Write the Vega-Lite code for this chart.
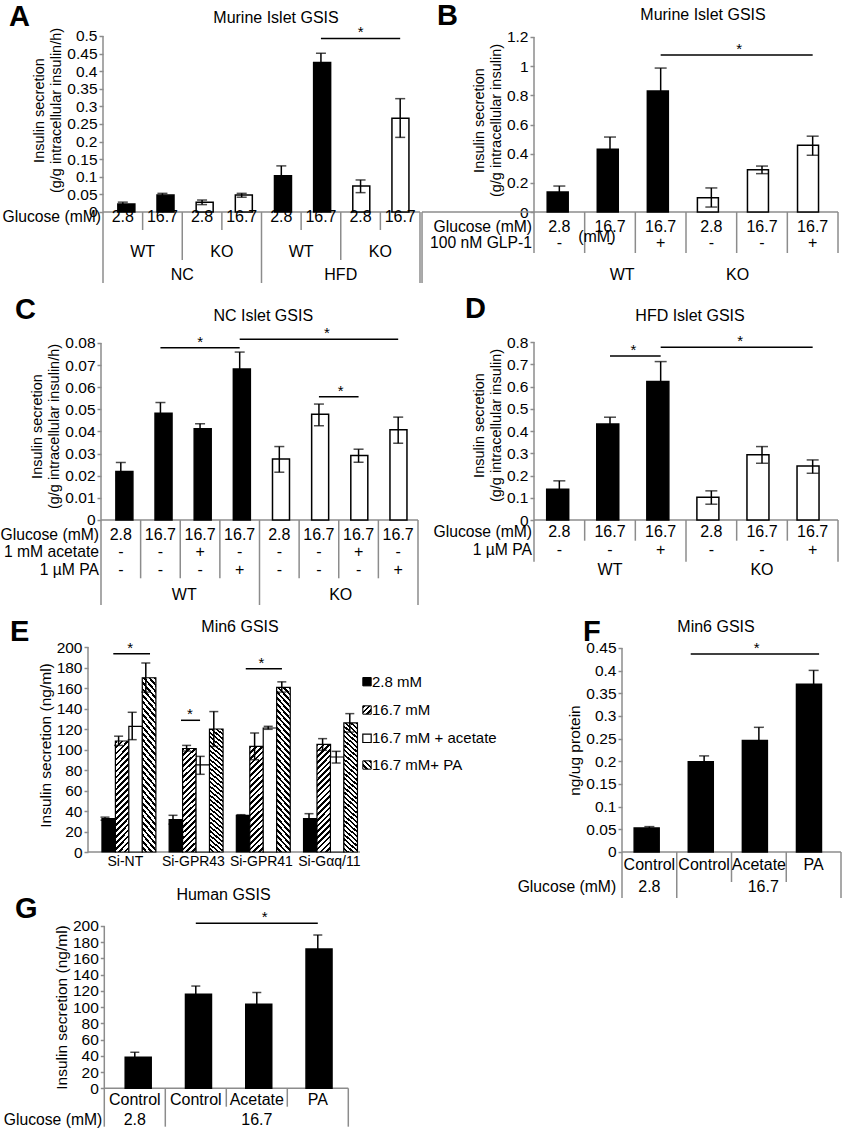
{
"$schema":"https://vega.github.io/schema/vega-lite/v6.json",
"width":843,"height":1128,"autosize":{"type":"none"},"padding":0,"background":"white",
"config":{"font":"Liberation Sans","view":{"stroke":null},
"axis":{"domain":false,"grid":false,"ticks":true,"tickColor":"#8c8c8c","tickSize":4,"tickWidth":1.5,"labelFont":"Liberation Sans","labelFontSize":15.5,"labelColor":"#000","labelPadding":2,"labelFlush":false,"labelOverlap":false,"titleFont":"Liberation Sans","titleFontWeight":"normal","titleColor":"#000","titlePadding":3,"zindex":2},
"text":{"font":"Liberation Sans","color":"#000"}},
"datasets":{
"barsA":[{"x":1,"v":0.0227,"lo":0.018,"hi":0.028,"g":"WT"},{"x":2,"v":0.048,"lo":0.043,"hi":0.053,"g":"WT"},{"x":3,"v":0.0275,"lo":0.021,"hi":0.034,"g":"KO"},{"x":4,"v":0.048,"lo":0.042,"hi":0.053,"g":"KO"},{"x":5,"v":0.103,"lo":0.075,"hi":0.131,"g":"WT"},{"x":6,"v":0.425,"lo":0.399,"hi":0.451,"g":"WT"},{"x":7,"v":0.074,"lo":0.055,"hi":0.091,"g":"KO"},{"x":8,"v":0.266,"lo":0.212,"hi":0.322,"g":"KO"}],
"linesA":[{"x":0.5,"x2":0.5,"y":0.5,"y2":-0.2017},{"x":0.5,"x2":8.5,"y":0,"y2":0},{"x":1.5,"x2":1.5,"y":0,"y2":-0.0511},{"x":3.5,"x2":3.5,"y":0,"y2":-0.0511},{"x":5.5,"x2":5.5,"y":0,"y2":-0.0511},{"x":7.5,"x2":7.5,"y":0,"y2":-0.0511},{"x":2.5,"x2":2.5,"y":0,"y2":-0.1364},{"x":6.5,"x2":6.5,"y":0,"y2":-0.1364},{"x":4.5,"x2":4.5,"y":0,"y2":-0.2017},{"x":8.5,"x2":8.5,"y":0,"y2":-0.2017}],
"sigA":[{"x":6,"x2":8,"xm":7,"y":0.493}],
"tabA":[{"x":1,"y":-0.0142,"t":"2.8"},{"x":2,"y":-0.0142,"t":"16.7"},{"x":3,"y":-0.0142,"t":"2.8"},{"x":4,"y":-0.0142,"t":"16.7"},{"x":5,"y":-0.0142,"t":"2.8"},{"x":6,"y":-0.0142,"t":"16.7"},{"x":7,"y":-0.0142,"t":"2.8"},{"x":8,"y":-0.0142,"t":"16.7"},{"x":1.5,"y":-0.1136,"t":"WT"},{"x":3.5,"y":-0.1136,"t":"KO"},{"x":5.5,"y":-0.1136,"t":"WT"},{"x":7.5,"y":-0.1136,"t":"KO"},{"x":2.5,"y":-0.179,"t":"NC"},{"x":6.5,"y":-0.179,"t":"HFD"}],
"rowA":[{"x":0.5,"y":-0.0142,"t":"Glucose (mM)"}],
"annA":[{"x":-1.872,"y":0.5284,"t":"A","k":"letter"},{"x":4.866,"y":0.5369,"t":"Murine Islet GSIS","k":"title"}],
"barsB":[{"x":1,"v":0.137,"lo":0.096,"hi":0.178,"g":"WT"},{"x":2,"v":0.43,"lo":0.346,"hi":0.514,"g":"WT"},{"x":3,"v":0.83,"lo":0.673,"hi":0.987,"g":"WT"},{"x":4,"v":0.098,"lo":0.034,"hi":0.165,"g":"KO"},{"x":5,"v":0.29,"lo":0.263,"hi":0.315,"g":"KO"},{"x":6,"v":0.457,"lo":0.389,"hi":0.52,"g":"KO"}],
"linesB":[{"x":0.5,"x2":0.5,"y":1.2,"y2":-0.2811},{"x":-1.71,"x2":6.5,"y":0,"y2":0},{"x":-1.71,"x2":-1.71,"y":0,"y2":-0.4869},{"x":1.5,"x2":1.5,"y":0,"y2":-0.2811},{"x":2.5,"x2":2.5,"y":0,"y2":-0.2811},{"x":3.5,"x2":3.5,"y":0,"y2":-0.2811},{"x":4.5,"x2":4.5,"y":0,"y2":-0.2811},{"x":5.5,"x2":5.5,"y":0,"y2":-0.2811},{"x":6.5,"x2":6.5,"y":0,"y2":-0.2811}],
"sigB":[{"x":3,"x2":6,"xm":4.55,"y":1.0766}],
"tabB":[{"x":1,"y":-0.1029,"t":"2.8"},{"x":2,"y":-0.1029,"t":"16.7"},{"x":3,"y":-0.1029,"t":"16.7"},{"x":4,"y":-0.1029,"t":"2.8"},{"x":5,"y":-0.1029,"t":"16.7"},{"x":6,"y":-0.1029,"t":"16.7"},{"x":1,"y":-0.2126,"t":"-"},{"x":2,"y":-0.2126,"t":"-"},{"x":3,"y":-0.2126,"t":"+"},{"x":4,"y":-0.2126,"t":"-"},{"x":5,"y":-0.2126,"t":"-"},{"x":6,"y":-0.2126,"t":"+"},{"x":1.74,"y":-0.1714,"t":"(mM)"},{"x":2.24,"y":-0.432,"t":"WT"},{"x":4.52,"y":-0.432,"t":"KO"}],
"rowB":[{"x":0.5,"y":-0.1029,"t":"Glucose (mM)"},{"x":0.5,"y":-0.2126,"t":"100 nM GLP-1"}],
"annB":[{"x":-1.4145,"y":1.2823,"t":"B","k":"letter"},{"x":3.8355,"y":1.3166,"t":"Murine Islet GSIS","k":"title"}],
"barsC":[{"x":1,"v":0.0219,"lo":0.0178,"hi":0.026,"g":"WT"},{"x":2,"v":0.0483,"lo":0.0435,"hi":0.0531,"g":"WT"},{"x":3,"v":0.0412,"lo":0.0389,"hi":0.0435,"g":"WT"},{"x":4,"v":0.0682,"lo":0.0605,"hi":0.0759,"g":"WT"},{"x":5,"v":0.0276,"lo":0.0216,"hi":0.0332,"g":"KO"},{"x":6,"v":0.0478,"lo":0.0426,"hi":0.0524,"g":"KO"},{"x":7,"v":0.0291,"lo":0.0261,"hi":0.032,"g":"KO"},{"x":8,"v":0.0408,"lo":0.0347,"hi":0.0465,"g":"KO"}],
"linesC":[{"x":0.5,"x2":0.5,"y":0.08,"y2":-0.03842},{"x":0.5,"x2":8.5,"y":0,"y2":0},{"x":1.5,"x2":1.5,"y":0,"y2":-0.02635},{"x":2.5,"x2":2.5,"y":0,"y2":-0.02635},{"x":3.5,"x2":3.5,"y":0,"y2":-0.02635},{"x":5.5,"x2":5.5,"y":0,"y2":-0.02635},{"x":6.5,"x2":6.5,"y":0,"y2":-0.02635},{"x":7.5,"x2":7.5,"y":0,"y2":-0.02635},{"x":4.5,"x2":4.5,"y":0,"y2":-0.03842},{"x":8.5,"x2":8.5,"y":0,"y2":-0.03842}],
"sigC":[{"x":2,"x2":4,"xm":3,"y":0.07788},{"x":4,"x2":8,"xm":6.2,"y":0.08167},{"x":6,"x2":7,"xm":6.55,"y":0.05573}],
"tabC":[{"x":1,"y":-0.00678,"t":"2.8"},{"x":2,"y":-0.00678,"t":"16.7"},{"x":3,"y":-0.00678,"t":"16.7"},{"x":4,"y":-0.00678,"t":"16.7"},{"x":5,"y":-0.00678,"t":"2.8"},{"x":6,"y":-0.00678,"t":"16.7"},{"x":7,"y":-0.00678,"t":"16.7"},{"x":8,"y":-0.00678,"t":"16.7"},{"x":1,"y":-0.01433,"t":"-"},{"x":2,"y":-0.01433,"t":"-"},{"x":3,"y":-0.01433,"t":"+"},{"x":4,"y":-0.01433,"t":"-"},{"x":5,"y":-0.01433,"t":"-"},{"x":6,"y":-0.01433,"t":"-"},{"x":7,"y":-0.01433,"t":"+"},{"x":8,"y":-0.01433,"t":"-"},{"x":1,"y":-0.0226,"t":"-"},{"x":2,"y":-0.0226,"t":"-"},{"x":3,"y":-0.0226,"t":"-"},{"x":4,"y":-0.0226,"t":"+"},{"x":5,"y":-0.0226,"t":"-"},{"x":6,"y":-0.0226,"t":"-"},{"x":7,"y":-0.0226,"t":"-"},{"x":8,"y":-0.0226,"t":"+"},{"x":2.6,"y":-0.0339,"t":"WT"},{"x":6.55,"y":-0.0339,"t":"KO"}],
"rowC":[{"x":0.5,"y":-0.00678,"t":"Glucose (mM)"},{"x":0.5,"y":-0.01433,"t":"1 mM acetate"},{"x":0.5,"y":-0.0226,"t":"1 µM PA"}],
"annC":[{"x":-1.6703,"y":0.09085,"t":"C","k":"letter"},{"x":4.596,"y":0.09008,"t":"NC Islet GSIS","k":"title"}],
"barsD":[{"x":1,"v":0.138,"lo":0.1,"hi":0.176,"g":"WT"},{"x":2,"v":0.432,"lo":0.402,"hi":0.462,"g":"WT"},{"x":3,"v":0.623,"lo":0.534,"hi":0.712,"g":"WT"},{"x":4,"v":0.102,"lo":0.071,"hi":0.131,"g":"KO"},{"x":5,"v":0.293,"lo":0.255,"hi":0.33,"g":"KO"},{"x":6,"v":0.243,"lo":0.21,"hi":0.27,"g":"KO"}],
"linesD":[{"x":0.5,"x2":0.5,"y":0.8,"y2":-0.1874},{"x":0.5,"x2":6.5,"y":0,"y2":0},{"x":1.5,"x2":1.5,"y":0,"y2":-0.093},{"x":2.5,"x2":2.5,"y":0,"y2":-0.093},{"x":4.5,"x2":4.5,"y":0,"y2":-0.093},{"x":5.5,"x2":5.5,"y":0,"y2":-0.093},{"x":3.5,"x2":3.5,"y":0,"y2":-0.1874},{"x":6.5,"x2":6.5,"y":0,"y2":-0.1874}],
"sigD":[{"x":2,"x2":3,"xm":2.46,"y":0.737},{"x":3,"x2":6,"xm":4.57,"y":0.776}],
"tabD":[{"x":1,"y":-0.0526,"t":"2.8"},{"x":2,"y":-0.0526,"t":"16.7"},{"x":3,"y":-0.0526,"t":"16.7"},{"x":4,"y":-0.0526,"t":"2.8"},{"x":5,"y":-0.0526,"t":"16.7"},{"x":6,"y":-0.0526,"t":"16.7"},{"x":1,"y":-0.1348,"t":"-"},{"x":2,"y":-0.1348,"t":"-"},{"x":3,"y":-0.1348,"t":"+"},{"x":4,"y":-0.1348,"t":"-"},{"x":5,"y":-0.1348,"t":"-"},{"x":6,"y":-0.1348,"t":"+"},{"x":2,"y":-0.2247,"t":"WT"},{"x":5,"y":-0.2247,"t":"KO"}],
"rowD":[{"x":0.5,"y":-0.0526,"t":"Glucose (mM)"},{"x":0.5,"y":-0.1348,"t":"1 µM PA"}],
"annD":[{"x":-0.8618,"y":0.9079,"t":"D","k":"letter"},{"x":3.579,"y":0.8957,"t":"HFD Islet GSIS","k":"title"}],
"barsE":[{"x":1.5,"grp":"Si-NT","c":"2.8 mM","v":32.5,"lo":31,"hi":34},{"x":2.5,"grp":"Si-NT","c":"16.7 mM","v":108.3,"lo":104,"hi":113},{"x":3.5,"grp":"Si-NT","c":"16.7 mM + acetate","v":122.6,"lo":109.6,"hi":136.3},{"x":4.5,"grp":"Si-NT","c":"16.7 mM + PA","v":170,"lo":156,"hi":184.4},{"x":6.5,"grp":"Si-GPR43","c":"2.8 mM","v":31.5,"lo":27.2,"hi":35.8},{"x":7.5,"grp":"Si-GPR43","c":"16.7 mM","v":101,"lo":98.5,"hi":104},{"x":8.5,"grp":"Si-GPR43","c":"16.7 mM + acetate","v":85,"lo":75.8,"hi":93.3},{"x":9.5,"grp":"Si-GPR43","c":"16.7 mM + PA","v":120,"lo":103,"hi":137},{"x":11.5,"grp":"Si-GPR41","c":"2.8 mM","v":35.8,"lo":35.2,"hi":36.4},{"x":12.5,"grp":"Si-GPR41","c":"16.7 mM","v":103,"lo":90,"hi":116},{"x":13.5,"grp":"Si-GPR41","c":"16.7 mM + acetate","v":121,"lo":119.7,"hi":122.6},{"x":14.5,"grp":"Si-GPR41","c":"16.7 mM + PA","v":160.6,"lo":156,"hi":166},{"x":16.5,"grp":"Si-Gαq/11","c":"2.8 mM","v":32.5,"lo":27.6,"hi":37.4},{"x":17.5,"grp":"Si-Gαq/11","c":"16.7 mM","v":105,"lo":99.2,"hi":110.6},{"x":18.5,"grp":"Si-Gαq/11","c":"16.7 mM + acetate","v":92.7,"lo":86.8,"hi":98.2},{"x":19.5,"grp":"Si-Gαq/11","c":"16.7 mM + PA","v":125.9,"lo":117,"hi":135}],
"linesE":[{"x":0.25,"x2":0.25,"y":200,"y2":0},{"x":0.25,"x2":20.25,"y":0,"y2":0}],
"sigE":[{"x":2.11,"x2":4.81,"xm":3.35,"y":193.5},{"x":7.09,"x2":8.49,"xm":7.75,"y":128.5},{"x":11.85,"x2":14.51,"xm":13.0,"y":178.9}],
"tabE":[{"x":3,"y":-9.76,"t":"Si-NT"},{"x":8,"y":-9.76,"t":"Si-GPR43"},{"x":13,"y":-9.76,"t":"Si-GPR41"},{"x":18,"y":-9.76,"t":"Si-Gαq/11"}],
"legE":[{"x":20.765,"y":166.15,"t":"2.8  mM","c":"2.8 mM"},{"x":20.765,"y":138.54,"t":"16.7 mM","c":"16.7 mM"},{"x":20.765,"y":110.93,"t":"16.7 mM + acetate","c":"16.7 mM + acetate"},{"x":20.765,"y":84.88,"t":"16.7 mM+ PA","c":"16.7 mM + PA"}],
"annE":[{"x":-5.485,"y":205.85,"t":"E","k":"letter"},{"x":11.426,"y":214.63,"t":"Min6 GSIS","k":"title"}],
"barsF":[{"x":1,"v":0.0531,"lo":0.05,"hi":0.056},{"x":2,"v":0.199,"lo":0.186,"hi":0.212},{"x":3,"v":0.2457,"lo":0.216,"hi":0.275},{"x":4,"v":0.37,"lo":0.339,"hi":0.4006}],
"linesF":[{"x":0.5,"x2":0.5,"y":0.45,"y2":-0.10147},{"x":0.5,"x2":4.5,"y":0,"y2":0},{"x":1.5,"x2":1.5,"y":0,"y2":-0.10147},{"x":2.5,"x2":2.5,"y":0,"y2":-0.0662},{"x":3.5,"x2":3.5,"y":0,"y2":-0.0662},{"x":4.5,"x2":4.5,"y":0,"y2":-0.10147}],
"sigF":[{"x":1.755,"x2":4.1,"xm":2.96,"y":0.4367}],
"tabF":[{"x":1,"y":-0.0287,"t":"Control"},{"x":2,"y":-0.0287,"t":"Control"},{"x":3,"y":-0.0287,"t":"Acetate"},{"x":4,"y":-0.0287,"t":"PA"},{"x":1,"y":-0.0772,"t":"2.8"},{"x":3.08,"y":-0.0772,"t":"16.7"}],
"rowF":[{"x":0.43,"y":-0.0772,"t":"Glucose (mM)"}],
"annF":[{"x":-0.2123,"y":0.46544,"t":"F","k":"letter"},{"x":2.2169,"y":0.48529,"t":"Min6 GSIS","k":"title"}],
"barsG":[{"x":1,"v":38.2,"lo":32,"hi":44.4},{"x":2,"v":115.8,"lo":105.6,"hi":126},{"x":3,"v":103.5,"lo":89,"hi":117.9},{"x":4,"v":171.7,"lo":154.5,"hi":188.9}],
"linesG":[{"x":0.5,"x2":0.5,"y":200,"y2":-47.3},{"x":0.5,"x2":4.5,"y":0,"y2":0},{"x":1.5,"x2":1.5,"y":0,"y2":-47.3},{"x":2.5,"x2":2.5,"y":0,"y2":-22.67},{"x":3.5,"x2":3.5,"y":0,"y2":-22.67},{"x":4.5,"x2":4.5,"y":0,"y2":-47.3}],
"sigG":[{"x":2,"x2":4,"xm":3.13,"y":203.3}],
"tabG":[{"x":1,"y":-14.42,"t":"Control"},{"x":2,"y":-14.42,"t":"Control"},{"x":3,"y":-14.42,"t":"Acetate"},{"x":4,"y":-14.42,"t":"PA"},{"x":1,"y":-39.06,"t":"2.8"},{"x":3,"y":-39.06,"t":"16.7"}],
"rowG":[{"x":0.5,"y":-39.06,"t":"Glucose (mM)"}],
"annG":[{"x":-0.9639,"y":209.86,"t":"G","k":"letter"},{"x":2.4541,"y":232.04,"t":"Human GSIS","k":"title"}]
},
"resolve":{"scale":{"x":"independent","y":"independent"},"axis":{"x":"independent","y":"independent"}},
"layer":[
{"data":{"name":"linesA"},"mark":{"type":"rule","stroke":"#8c8c8c","strokeWidth":1.5},"encoding":{"x":{"field":"x","type":"quantitative","scale":{"domain":[-2.0994,19.1751],"nice":false,"zero":false},"axis":null},"x2":{"field":"x2"},"y":{"field":"y","type":"quantitative","scale":{"domain":[-2.60227,0.60227],"nice":false,"zero":false},"axis":null},"y2":{"field":"y2"}}},
{"data":{"name":"barsA"},"mark":{"type":"bar","size":17,"stroke":"black","strokeWidth":1.5},"encoding":{"x":{"field":"x","type":"quantitative","scale":{"domain":[-2.0994,19.1751],"nice":false,"zero":false},"axis":null},"y":{"field":"v","type":"quantitative","scale":{"domain":[-2.60227,0.60227],"nice":false,"zero":false},"axis":{"orient":"left","offset":-103,"values":[0,0.05,0.1,0.15,0.2,0.25,0.3,0.35,0.4,0.45,0.5],"format":".2~f","title":["Insulin secretion","(g/g intracellular insulin/h)"],"titleY":110,"titleFontSize":14.5,"titleLineHeight":17}},"y2":{"datum":0},"fill":{"field":"g","type":"nominal","scale":{"domain":["WT","KO"],"range":["black","white"]},"legend":null}}},
{"data":{"name":"barsA"},"mark":{"type":"errorbar","ticks":{"size":10},"thickness":1.5,"color":"black"},"encoding":{"x":{"field":"x","type":"quantitative","scale":{"domain":[-2.0994,19.1751],"nice":false,"zero":false},"axis":null},"y":{"field":"lo","type":"quantitative","scale":{"domain":[-2.60227,0.60227],"nice":false,"zero":false},"axis":null},"y2":{"field":"hi"}}},
{"data":{"name":"sigA"},"mark":{"type":"rule","color":"black","strokeWidth":1.5},"encoding":{"x":{"field":"x","type":"quantitative","scale":{"domain":[-2.0994,19.1751],"nice":false,"zero":false},"axis":null},"x2":{"field":"x2"},"y":{"field":"y","type":"quantitative","scale":{"domain":[-2.60227,0.60227],"nice":false,"zero":false},"axis":null}}},
{"data":{"name":"sigA"},"mark":{"type":"text","text":"*","fontSize":15,"baseline":"alphabetic","dy":-1},"encoding":{"x":{"field":"xm","type":"quantitative","scale":{"domain":[-2.0994,19.1751],"nice":false,"zero":false},"axis":null},"y":{"field":"y","type":"quantitative","scale":{"domain":[-2.60227,0.60227],"nice":false,"zero":false},"axis":null}}},
{"data":{"name":"tabA"},"mark":{"type":"text","fontSize":16,"baseline":"middle"},"encoding":{"x":{"field":"x","type":"quantitative","scale":{"domain":[-2.0994,19.1751],"nice":false,"zero":false},"axis":null},"y":{"field":"y","type":"quantitative","scale":{"domain":[-2.60227,0.60227],"nice":false,"zero":false},"axis":null},"text":{"field":"t"}}},
{"data":{"name":"rowA"},"mark":{"type":"text","fontSize":15.7,"baseline":"middle","align":"right","dx":-2},"encoding":{"x":{"field":"x","type":"quantitative","scale":{"domain":[-2.0994,19.1751],"nice":false,"zero":false},"axis":null},"y":{"field":"y","type":"quantitative","scale":{"domain":[-2.60227,0.60227],"nice":false,"zero":false},"axis":null},"text":{"field":"t"}}},
{"data":{"name":"annA"},"transform":[{"filter":{"field":"k","equal":"letter"}}],"mark":{"type":"text","fontSize":29,"fontWeight":"bold","align":"left","baseline":"alphabetic"},"encoding":{"x":{"field":"x","type":"quantitative","scale":{"domain":[-2.0994,19.1751],"nice":false,"zero":false},"axis":null},"y":{"field":"y","type":"quantitative","scale":{"domain":[-2.60227,0.60227],"nice":false,"zero":false},"axis":null},"text":{"field":"t"}}},
{"data":{"name":"annA"},"transform":[{"filter":{"field":"k","equal":"title"}}],"mark":{"type":"text","fontSize":16,"baseline":"alphabetic"},"encoding":{"x":{"field":"x","type":"quantitative","scale":{"domain":[-2.0994,19.1751],"nice":false,"zero":false},"axis":null},"y":{"field":"y","type":"quantitative","scale":{"domain":[-2.60227,0.60227],"nice":false,"zero":false},"axis":null},"text":{"field":"t"}}},

{"data":{"name":"linesB"},"mark":{"type":"rule","stroke":"#8c8c8c","strokeWidth":1.5},"encoding":{"x":{"field":"x","type":"quantitative","scale":{"domain":[-10.0394,6.5986],"nice":false,"zero":false},"axis":null},"x2":{"field":"x2"},"y":{"field":"y","type":"quantitative","scale":{"domain":[-6.2811,1.45371],"nice":false,"zero":false},"axis":null},"y2":{"field":"y2"}}},
{"data":{"name":"barsB"},"mark":{"type":"bar","size":21,"stroke":"black","strokeWidth":1.5},"encoding":{"x":{"field":"x","type":"quantitative","scale":{"domain":[-10.0394,6.5986],"nice":false,"zero":false},"axis":null},"y":{"field":"v","type":"quantitative","scale":{"domain":[-6.2811,1.45371],"nice":false,"zero":false},"axis":{"orient":"left","offset":-534,"values":[0,0.2,0.4,0.6,0.8,1,1.2],"format":".1~f","title":["Insulin secretion","(g/g intracellular insulin)"],"titleY":120,"titleFontSize":14.5,"titleLineHeight":17}},"y2":{"datum":0},"fill":{"field":"g","type":"nominal","scale":{"domain":["WT","KO"],"range":["black","white"]},"legend":null}}},
{"data":{"name":"barsB"},"mark":{"type":"errorbar","ticks":{"size":12},"thickness":1.5,"color":"black"},"encoding":{"x":{"field":"x","type":"quantitative","scale":{"domain":[-10.0394,6.5986],"nice":false,"zero":false},"axis":null},"y":{"field":"lo","type":"quantitative","scale":{"domain":[-6.2811,1.45371],"nice":false,"zero":false},"axis":null},"y2":{"field":"hi"}}},
{"data":{"name":"sigB"},"mark":{"type":"rule","color":"black","strokeWidth":1.5},"encoding":{"x":{"field":"x","type":"quantitative","scale":{"domain":[-10.0394,6.5986],"nice":false,"zero":false},"axis":null},"x2":{"field":"x2"},"y":{"field":"y","type":"quantitative","scale":{"domain":[-6.2811,1.45371],"nice":false,"zero":false},"axis":null}}},
{"data":{"name":"sigB"},"mark":{"type":"text","text":"*","fontSize":15,"baseline":"alphabetic","dy":-1},"encoding":{"x":{"field":"xm","type":"quantitative","scale":{"domain":[-10.0394,6.5986],"nice":false,"zero":false},"axis":null},"y":{"field":"y","type":"quantitative","scale":{"domain":[-6.2811,1.45371],"nice":false,"zero":false},"axis":null}}},
{"data":{"name":"tabB"},"mark":{"type":"text","fontSize":16,"baseline":"middle"},"encoding":{"x":{"field":"x","type":"quantitative","scale":{"domain":[-10.0394,6.5986],"nice":false,"zero":false},"axis":null},"y":{"field":"y","type":"quantitative","scale":{"domain":[-6.2811,1.45371],"nice":false,"zero":false},"axis":null},"text":{"field":"t"}}},
{"data":{"name":"rowB"},"mark":{"type":"text","fontSize":15.7,"baseline":"middle","align":"right","dx":-2},"encoding":{"x":{"field":"x","type":"quantitative","scale":{"domain":[-10.0394,6.5986],"nice":false,"zero":false},"axis":null},"y":{"field":"y","type":"quantitative","scale":{"domain":[-6.2811,1.45371],"nice":false,"zero":false},"axis":null},"text":{"field":"t"}}},
{"data":{"name":"annB"},"transform":[{"filter":{"field":"k","equal":"letter"}}],"mark":{"type":"text","fontSize":29,"fontWeight":"bold","align":"left","baseline":"alphabetic"},"encoding":{"x":{"field":"x","type":"quantitative","scale":{"domain":[-10.0394,6.5986],"nice":false,"zero":false},"axis":null},"y":{"field":"y","type":"quantitative","scale":{"domain":[-6.2811,1.45371],"nice":false,"zero":false},"axis":null},"text":{"field":"t"}}},
{"data":{"name":"annB"},"transform":[{"filter":{"field":"k","equal":"title"}}],"mark":{"type":"text","fontSize":16,"baseline":"alphabetic"},"encoding":{"x":{"field":"x","type":"quantitative","scale":{"domain":[-10.0394,6.5986],"nice":false,"zero":false},"axis":null},"y":{"field":"y","type":"quantitative","scale":{"domain":[-6.2811,1.45371],"nice":false,"zero":false},"axis":null},"text":{"field":"t"}}},

{"data":{"name":"linesC"},"mark":{"type":"rule","stroke":"#8c8c8c","strokeWidth":1.5},"encoding":{"x":{"field":"x","type":"quantitative","scale":{"domain":[-2.0489,19.2256],"nice":false,"zero":false},"axis":null},"x2":{"field":"x2"},"y":{"field":"y","type":"quantitative","scale":{"domain":[-0.274802,0.235028],"nice":false,"zero":false},"axis":null},"y2":{"field":"y2"}}},
{"data":{"name":"barsC"},"mark":{"type":"bar","size":17,"stroke":"black","strokeWidth":1.5},"encoding":{"x":{"field":"x","type":"quantitative","scale":{"domain":[-2.0489,19.2256],"nice":false,"zero":false},"axis":null},"y":{"field":"v","type":"quantitative","scale":{"domain":[-0.274802,0.235028],"nice":false,"zero":false},"axis":{"orient":"left","offset":-101,"values":[0,0.01,0.02,0.03,0.04,0.05,0.06,0.07,0.08],"format":".2~f","title":["Insulin secretion","(g/g intracellular insulin/h)"],"titleY":426,"titleFontSize":14.5,"titleLineHeight":17}},"y2":{"datum":0},"fill":{"field":"g","type":"nominal","scale":{"domain":["WT","KO"],"range":["black","white"]},"legend":null}}},
{"data":{"name":"barsC"},"mark":{"type":"errorbar","ticks":{"size":10},"thickness":1.5,"color":"black"},"encoding":{"x":{"field":"x","type":"quantitative","scale":{"domain":[-2.0489,19.2256],"nice":false,"zero":false},"axis":null},"y":{"field":"lo","type":"quantitative","scale":{"domain":[-0.274802,0.235028],"nice":false,"zero":false},"axis":null},"y2":{"field":"hi"}}},
{"data":{"name":"sigC"},"mark":{"type":"rule","color":"black","strokeWidth":1.5},"encoding":{"x":{"field":"x","type":"quantitative","scale":{"domain":[-2.0489,19.2256],"nice":false,"zero":false},"axis":null},"x2":{"field":"x2"},"y":{"field":"y","type":"quantitative","scale":{"domain":[-0.274802,0.235028],"nice":false,"zero":false},"axis":null}}},
{"data":{"name":"sigC"},"mark":{"type":"text","text":"*","fontSize":15,"baseline":"alphabetic","dy":-1},"encoding":{"x":{"field":"xm","type":"quantitative","scale":{"domain":[-2.0489,19.2256],"nice":false,"zero":false},"axis":null},"y":{"field":"y","type":"quantitative","scale":{"domain":[-0.274802,0.235028],"nice":false,"zero":false},"axis":null}}},
{"data":{"name":"tabC"},"mark":{"type":"text","fontSize":16,"baseline":"middle"},"encoding":{"x":{"field":"x","type":"quantitative","scale":{"domain":[-2.0489,19.2256],"nice":false,"zero":false},"axis":null},"y":{"field":"y","type":"quantitative","scale":{"domain":[-0.274802,0.235028],"nice":false,"zero":false},"axis":null},"text":{"field":"t"}}},
{"data":{"name":"rowC"},"mark":{"type":"text","fontSize":15.7,"baseline":"middle","align":"right","dx":-2},"encoding":{"x":{"field":"x","type":"quantitative","scale":{"domain":[-2.0489,19.2256],"nice":false,"zero":false},"axis":null},"y":{"field":"y","type":"quantitative","scale":{"domain":[-0.274802,0.235028],"nice":false,"zero":false},"axis":null},"text":{"field":"t"}}},
{"data":{"name":"annC"},"transform":[{"filter":{"field":"k","equal":"letter"}}],"mark":{"type":"text","fontSize":29,"fontWeight":"bold","align":"left","baseline":"alphabetic"},"encoding":{"x":{"field":"x","type":"quantitative","scale":{"domain":[-2.0489,19.2256],"nice":false,"zero":false},"axis":null},"y":{"field":"y","type":"quantitative","scale":{"domain":[-0.274802,0.235028],"nice":false,"zero":false},"axis":null},"text":{"field":"t"}}},
{"data":{"name":"annC"},"transform":[{"filter":{"field":"k","equal":"title"}}],"mark":{"type":"text","fontSize":16,"baseline":"alphabetic"},"encoding":{"x":{"field":"x","type":"quantitative","scale":{"domain":[-2.0489,19.2256],"nice":false,"zero":false},"axis":null},"y":{"field":"y","type":"quantitative","scale":{"domain":[-0.274802,0.235028],"nice":false,"zero":false},"axis":null},"text":{"field":"t"}}},

{"data":{"name":"linesD"},"mark":{"type":"rule","stroke":"#8c8c8c","strokeWidth":1.5},"encoding":{"x":{"field":"x","type":"quantitative","scale":{"domain":[-10.0394,6.5986],"nice":false,"zero":false},"axis":null},"x2":{"field":"x2"},"y":{"field":"y","type":"quantitative","scale":{"domain":[-2.73258,2.33708],"nice":false,"zero":false},"axis":null},"y2":{"field":"y2"}}},
{"data":{"name":"barsD"},"mark":{"type":"bar","size":22,"stroke":"black","strokeWidth":1.5},"encoding":{"x":{"field":"x","type":"quantitative","scale":{"domain":[-10.0394,6.5986],"nice":false,"zero":false},"axis":null},"y":{"field":"v","type":"quantitative","scale":{"domain":[-2.73258,2.33708],"nice":false,"zero":false},"axis":{"orient":"left","offset":-534,"values":[0,0.1,0.2,0.3,0.4,0.5,0.6,0.7,0.8],"format":".1~f","title":["Insulin secretion","(g/g intracellular insulin)"],"titleY":425,"titleFontSize":14.5,"titleLineHeight":17}},"y2":{"datum":0},"fill":{"field":"g","type":"nominal","scale":{"domain":["WT","KO"],"range":["black","white"]},"legend":null}}},
{"data":{"name":"barsD"},"mark":{"type":"errorbar","ticks":{"size":12},"thickness":1.5,"color":"black"},"encoding":{"x":{"field":"x","type":"quantitative","scale":{"domain":[-10.0394,6.5986],"nice":false,"zero":false},"axis":null},"y":{"field":"lo","type":"quantitative","scale":{"domain":[-2.73258,2.33708],"nice":false,"zero":false},"axis":null},"y2":{"field":"hi"}}},
{"data":{"name":"sigD"},"mark":{"type":"rule","color":"black","strokeWidth":1.5},"encoding":{"x":{"field":"x","type":"quantitative","scale":{"domain":[-10.0394,6.5986],"nice":false,"zero":false},"axis":null},"x2":{"field":"x2"},"y":{"field":"y","type":"quantitative","scale":{"domain":[-2.73258,2.33708],"nice":false,"zero":false},"axis":null}}},
{"data":{"name":"sigD"},"mark":{"type":"text","text":"*","fontSize":15,"baseline":"alphabetic","dy":-1},"encoding":{"x":{"field":"xm","type":"quantitative","scale":{"domain":[-10.0394,6.5986],"nice":false,"zero":false},"axis":null},"y":{"field":"y","type":"quantitative","scale":{"domain":[-2.73258,2.33708],"nice":false,"zero":false},"axis":null}}},
{"data":{"name":"tabD"},"mark":{"type":"text","fontSize":16,"baseline":"middle"},"encoding":{"x":{"field":"x","type":"quantitative","scale":{"domain":[-10.0394,6.5986],"nice":false,"zero":false},"axis":null},"y":{"field":"y","type":"quantitative","scale":{"domain":[-2.73258,2.33708],"nice":false,"zero":false},"axis":null},"text":{"field":"t"}}},
{"data":{"name":"rowD"},"mark":{"type":"text","fontSize":15.7,"baseline":"middle","align":"right","dx":-2},"encoding":{"x":{"field":"x","type":"quantitative","scale":{"domain":[-10.0394,6.5986],"nice":false,"zero":false},"axis":null},"y":{"field":"y","type":"quantitative","scale":{"domain":[-2.73258,2.33708],"nice":false,"zero":false},"axis":null},"text":{"field":"t"}}},
{"data":{"name":"annD"},"transform":[{"filter":{"field":"k","equal":"letter"}}],"mark":{"type":"text","fontSize":29,"fontWeight":"bold","align":"left","baseline":"alphabetic"},"encoding":{"x":{"field":"x","type":"quantitative","scale":{"domain":[-10.0394,6.5986],"nice":false,"zero":false},"axis":null},"y":{"field":"y","type":"quantitative","scale":{"domain":[-2.73258,2.33708],"nice":false,"zero":false},"axis":null},"text":{"field":"t"}}},
{"data":{"name":"annD"},"transform":[{"filter":{"field":"k","equal":"title"}}],"mark":{"type":"text","fontSize":16,"baseline":"alphabetic"},"encoding":{"x":{"field":"x","type":"quantitative","scale":{"domain":[-10.0394,6.5986],"nice":false,"zero":false},"axis":null},"y":{"field":"y","type":"quantitative","scale":{"domain":[-2.73258,2.33708],"nice":false,"zero":false},"axis":null},"text":{"field":"t"}}},

{"data":{"name":"linesE"},"mark":{"type":"rule","stroke":"#8c8c8c","strokeWidth":1.5},"encoding":{"x":{"field":"x","type":"quantitative","scale":{"domain":[-6.2206,55.7647],"nice":false,"zero":false},"axis":null},"x2":{"field":"x2"},"y":{"field":"y","type":"quantitative","scale":{"domain":[-269.268,831.22],"nice":false,"zero":false},"axis":null},"y2":{"field":"y2"}}},
{"data":{"name":"barsE"},"transform":[{"filter":{"field":"c","equal":"2.8 mM"}}],"mark":{"type":"bar","size":13.6,"fill":"black","stroke":"black","strokeWidth":1.2},"encoding":{"x":{"field":"x","type":"quantitative","scale":{"domain":[-6.2206,55.7647],"nice":false,"zero":false},"axis":null},"y":{"field":"v","type":"quantitative","scale":{"domain":[-269.268,831.22],"nice":false,"zero":false},"axis":{"orient":"left","offset":-88,"values":[0,20,40,60,80,100,120,140,160,180,200],"format":".0f","title":"Insulin secretion (ng/ml)","titleY":745,"titleFontSize":15.5}},"y2":{"datum":0}}},
{"data":{"name":"barsE"},"transform":[{"filter":{"field":"c","equal":"16.7 mM"}}],"mark":{"type":"bar","size":13.6,"stroke":"black","strokeWidth":1.2,"fill":{"gradient":"linear","x1":0,"y1":0,"x2":0.1409,"y2":1.1092,"stops":[{"offset":0,"color":"#000"},{"offset":0.021429,"color":"#000"},{"offset":0.021429,"color":"#fff"},{"offset":0.047619,"color":"#fff"},{"offset":0.047619,"color":"#000"},{"offset":0.069048,"color":"#000"},{"offset":0.069048,"color":"#fff"},{"offset":0.095238,"color":"#fff"},{"offset":0.095238,"color":"#000"},{"offset":0.116667,"color":"#000"},{"offset":0.116667,"color":"#fff"},{"offset":0.142857,"color":"#fff"},{"offset":0.142857,"color":"#000"},{"offset":0.164286,"color":"#000"},{"offset":0.164286,"color":"#fff"},{"offset":0.190476,"color":"#fff"},{"offset":0.190476,"color":"#000"},{"offset":0.211905,"color":"#000"},{"offset":0.211905,"color":"#fff"},{"offset":0.238095,"color":"#fff"},{"offset":0.238095,"color":"#000"},{"offset":0.259524,"color":"#000"},{"offset":0.259524,"color":"#fff"},{"offset":0.285714,"color":"#fff"},{"offset":0.285714,"color":"#000"},{"offset":0.307143,"color":"#000"},{"offset":0.307143,"color":"#fff"},{"offset":0.333333,"color":"#fff"},{"offset":0.333333,"color":"#000"},{"offset":0.354762,"color":"#000"},{"offset":0.354762,"color":"#fff"},{"offset":0.380952,"color":"#fff"},{"offset":0.380952,"color":"#000"},{"offset":0.402381,"color":"#000"},{"offset":0.402381,"color":"#fff"},{"offset":0.428571,"color":"#fff"},{"offset":0.428571,"color":"#000"},{"offset":0.45,"color":"#000"},{"offset":0.45,"color":"#fff"},{"offset":0.47619,"color":"#fff"},{"offset":0.47619,"color":"#000"},{"offset":0.497619,"color":"#000"},{"offset":0.497619,"color":"#fff"},{"offset":0.52381,"color":"#fff"},{"offset":0.52381,"color":"#000"},{"offset":0.545238,"color":"#000"},{"offset":0.545238,"color":"#fff"},{"offset":0.571429,"color":"#fff"},{"offset":0.571429,"color":"#000"},{"offset":0.592857,"color":"#000"},{"offset":0.592857,"color":"#fff"},{"offset":0.619048,"color":"#fff"},{"offset":0.619048,"color":"#000"},{"offset":0.640476,"color":"#000"},{"offset":0.640476,"color":"#fff"},{"offset":0.666667,"color":"#fff"},{"offset":0.666667,"color":"#000"},{"offset":0.688095,"color":"#000"},{"offset":0.688095,"color":"#fff"},{"offset":0.714286,"color":"#fff"},{"offset":0.714286,"color":"#000"},{"offset":0.735714,"color":"#000"},{"offset":0.735714,"color":"#fff"},{"offset":0.761905,"color":"#fff"},{"offset":0.761905,"color":"#000"},{"offset":0.783333,"color":"#000"},{"offset":0.783333,"color":"#fff"},{"offset":0.809524,"color":"#fff"},{"offset":0.809524,"color":"#000"},{"offset":0.830952,"color":"#000"},{"offset":0.830952,"color":"#fff"},{"offset":0.857143,"color":"#fff"},{"offset":0.857143,"color":"#000"},{"offset":0.878571,"color":"#000"},{"offset":0.878571,"color":"#fff"},{"offset":0.904762,"color":"#fff"},{"offset":0.904762,"color":"#000"},{"offset":0.92619,"color":"#000"},{"offset":0.92619,"color":"#fff"},{"offset":0.952381,"color":"#fff"},{"offset":0.952381,"color":"#000"},{"offset":0.97381,"color":"#000"},{"offset":0.97381,"color":"#fff"},{"offset":1,"color":"#fff"}]}},"encoding":{"x":{"field":"x","type":"quantitative","scale":{"domain":[-6.2206,55.7647],"nice":false,"zero":false},"axis":null},"y":{"field":"v","type":"quantitative","scale":{"domain":[-269.268,831.22],"nice":false,"zero":false},"axis":null},"y2":{"datum":0}}},
{"data":{"name":"barsE"},"transform":[{"filter":{"field":"c","equal":"16.7 mM + acetate"}}],"mark":{"type":"bar","size":13.6,"fill":"white","stroke":"black","strokeWidth":1.2},"encoding":{"x":{"field":"x","type":"quantitative","scale":{"domain":[-6.2206,55.7647],"nice":false,"zero":false},"axis":null},"y":{"field":"v","type":"quantitative","scale":{"domain":[-269.268,831.22],"nice":false,"zero":false},"axis":null},"y2":{"datum":0}}},
{"data":{"name":"barsE"},"transform":[{"filter":{"field":"c","equal":"16.7 mM + PA"}}],"mark":{"type":"bar","size":13.6,"stroke":"black","strokeWidth":1.2,"fill":{"gradient":"linear","x1":1,"y1":0,"x2":0.9004,"y2":1.083,"stops":[{"offset":0,"color":"#000"},{"offset":0.015,"color":"#000"},{"offset":0.015,"color":"#fff"},{"offset":0.033333,"color":"#fff"},{"offset":0.033333,"color":"#000"},{"offset":0.048333,"color":"#000"},{"offset":0.048333,"color":"#fff"},{"offset":0.066667,"color":"#fff"},{"offset":0.066667,"color":"#000"},{"offset":0.081667,"color":"#000"},{"offset":0.081667,"color":"#fff"},{"offset":0.1,"color":"#fff"},{"offset":0.1,"color":"#000"},{"offset":0.115,"color":"#000"},{"offset":0.115,"color":"#fff"},{"offset":0.133333,"color":"#fff"},{"offset":0.133333,"color":"#000"},{"offset":0.148333,"color":"#000"},{"offset":0.148333,"color":"#fff"},{"offset":0.166667,"color":"#fff"},{"offset":0.166667,"color":"#000"},{"offset":0.181667,"color":"#000"},{"offset":0.181667,"color":"#fff"},{"offset":0.2,"color":"#fff"},{"offset":0.2,"color":"#000"},{"offset":0.215,"color":"#000"},{"offset":0.215,"color":"#fff"},{"offset":0.233333,"color":"#fff"},{"offset":0.233333,"color":"#000"},{"offset":0.248333,"color":"#000"},{"offset":0.248333,"color":"#fff"},{"offset":0.266667,"color":"#fff"},{"offset":0.266667,"color":"#000"},{"offset":0.281667,"color":"#000"},{"offset":0.281667,"color":"#fff"},{"offset":0.3,"color":"#fff"},{"offset":0.3,"color":"#000"},{"offset":0.315,"color":"#000"},{"offset":0.315,"color":"#fff"},{"offset":0.333333,"color":"#fff"},{"offset":0.333333,"color":"#000"},{"offset":0.348333,"color":"#000"},{"offset":0.348333,"color":"#fff"},{"offset":0.366667,"color":"#fff"},{"offset":0.366667,"color":"#000"},{"offset":0.381667,"color":"#000"},{"offset":0.381667,"color":"#fff"},{"offset":0.4,"color":"#fff"},{"offset":0.4,"color":"#000"},{"offset":0.415,"color":"#000"},{"offset":0.415,"color":"#fff"},{"offset":0.433333,"color":"#fff"},{"offset":0.433333,"color":"#000"},{"offset":0.448333,"color":"#000"},{"offset":0.448333,"color":"#fff"},{"offset":0.466667,"color":"#fff"},{"offset":0.466667,"color":"#000"},{"offset":0.481667,"color":"#000"},{"offset":0.481667,"color":"#fff"},{"offset":0.5,"color":"#fff"},{"offset":0.5,"color":"#000"},{"offset":0.515,"color":"#000"},{"offset":0.515,"color":"#fff"},{"offset":0.533333,"color":"#fff"},{"offset":0.533333,"color":"#000"},{"offset":0.548333,"color":"#000"},{"offset":0.548333,"color":"#fff"},{"offset":0.566667,"color":"#fff"},{"offset":0.566667,"color":"#000"},{"offset":0.581667,"color":"#000"},{"offset":0.581667,"color":"#fff"},{"offset":0.6,"color":"#fff"},{"offset":0.6,"color":"#000"},{"offset":0.615,"color":"#000"},{"offset":0.615,"color":"#fff"},{"offset":0.633333,"color":"#fff"},{"offset":0.633333,"color":"#000"},{"offset":0.648333,"color":"#000"},{"offset":0.648333,"color":"#fff"},{"offset":0.666667,"color":"#fff"},{"offset":0.666667,"color":"#000"},{"offset":0.681667,"color":"#000"},{"offset":0.681667,"color":"#fff"},{"offset":0.7,"color":"#fff"},{"offset":0.7,"color":"#000"},{"offset":0.715,"color":"#000"},{"offset":0.715,"color":"#fff"},{"offset":0.733333,"color":"#fff"},{"offset":0.733333,"color":"#000"},{"offset":0.748333,"color":"#000"},{"offset":0.748333,"color":"#fff"},{"offset":0.766667,"color":"#fff"},{"offset":0.766667,"color":"#000"},{"offset":0.781667,"color":"#000"},{"offset":0.781667,"color":"#fff"},{"offset":0.8,"color":"#fff"},{"offset":0.8,"color":"#000"},{"offset":0.815,"color":"#000"},{"offset":0.815,"color":"#fff"},{"offset":0.833333,"color":"#fff"},{"offset":0.833333,"color":"#000"},{"offset":0.848333,"color":"#000"},{"offset":0.848333,"color":"#fff"},{"offset":0.866667,"color":"#fff"},{"offset":0.866667,"color":"#000"},{"offset":0.881667,"color":"#000"},{"offset":0.881667,"color":"#fff"},{"offset":0.9,"color":"#fff"},{"offset":0.9,"color":"#000"},{"offset":0.915,"color":"#000"},{"offset":0.915,"color":"#fff"},{"offset":0.933333,"color":"#fff"},{"offset":0.933333,"color":"#000"},{"offset":0.948333,"color":"#000"},{"offset":0.948333,"color":"#fff"},{"offset":0.966667,"color":"#fff"},{"offset":0.966667,"color":"#000"},{"offset":0.981667,"color":"#000"},{"offset":0.981667,"color":"#fff"},{"offset":1,"color":"#fff"}]}},"encoding":{"x":{"field":"x","type":"quantitative","scale":{"domain":[-6.2206,55.7647],"nice":false,"zero":false},"axis":null},"y":{"field":"v","type":"quantitative","scale":{"domain":[-269.268,831.22],"nice":false,"zero":false},"axis":null},"y2":{"datum":0}}},
{"data":{"name":"barsE"},"mark":{"type":"errorbar","ticks":{"size":9},"thickness":1.5,"color":"black"},"encoding":{"x":{"field":"x","type":"quantitative","scale":{"domain":[-6.2206,55.7647],"nice":false,"zero":false},"axis":null},"y":{"field":"lo","type":"quantitative","scale":{"domain":[-269.268,831.22],"nice":false,"zero":false},"axis":null},"y2":{"field":"hi"}}},
{"data":{"name":"sigE"},"mark":{"type":"rule","color":"black","strokeWidth":1.5},"encoding":{"x":{"field":"x","type":"quantitative","scale":{"domain":[-6.2206,55.7647],"nice":false,"zero":false},"axis":null},"x2":{"field":"x2"},"y":{"field":"y","type":"quantitative","scale":{"domain":[-269.268,831.22],"nice":false,"zero":false},"axis":null}}},
{"data":{"name":"sigE"},"mark":{"type":"text","text":"*","fontSize":15,"baseline":"alphabetic","dy":-1},"encoding":{"x":{"field":"xm","type":"quantitative","scale":{"domain":[-6.2206,55.7647],"nice":false,"zero":false},"axis":null},"y":{"field":"y","type":"quantitative","scale":{"domain":[-269.268,831.22],"nice":false,"zero":false},"axis":null}}},
{"data":{"name":"tabE"},"mark":{"type":"text","fontSize":14,"baseline":"middle"},"encoding":{"x":{"field":"x","type":"quantitative","scale":{"domain":[-6.2206,55.7647],"nice":false,"zero":false},"axis":null},"y":{"field":"y","type":"quantitative","scale":{"domain":[-269.268,831.22],"nice":false,"zero":false},"axis":null},"text":{"field":"t"}}},
{"data":{"name":"legE"},"transform":[{"filter":{"field":"c","equal":"2.8 mM"}}],"mark":{"type":"point","shape":"square","size":70,"filled":true,"fill":"black","stroke":"black","strokeWidth":1,"opacity":1},"encoding":{"x":{"field":"x","type":"quantitative","scale":{"domain":[-6.2206,55.7647],"nice":false,"zero":false},"axis":null},"y":{"field":"y","type":"quantitative","scale":{"domain":[-269.268,831.22],"nice":false,"zero":false},"axis":null}}},
{"data":{"name":"legE"},"transform":[{"filter":{"field":"c","equal":"16.7 mM"}}],"mark":{"type":"point","shape":"square","size":70,"filled":true,"stroke":"black","strokeWidth":1,"opacity":1,"fill":{"gradient":"linear","x1":0,"y1":0,"x2":1,"y2":1,"stops":[{"offset":0,"color":"#000"},{"offset":0.15,"color":"#000"},{"offset":0.15,"color":"#fff"},{"offset":0.3333,"color":"#fff"},{"offset":0.3333,"color":"#000"},{"offset":0.4833,"color":"#000"},{"offset":0.4833,"color":"#fff"},{"offset":0.6667,"color":"#fff"},{"offset":0.6667,"color":"#000"},{"offset":0.8167,"color":"#000"},{"offset":0.8167,"color":"#fff"},{"offset":1,"color":"#fff"}]}},"encoding":{"x":{"field":"x","type":"quantitative","scale":{"domain":[-6.2206,55.7647],"nice":false,"zero":false},"axis":null},"y":{"field":"y","type":"quantitative","scale":{"domain":[-269.268,831.22],"nice":false,"zero":false},"axis":null}}},
{"data":{"name":"legE"},"transform":[{"filter":{"field":"c","equal":"16.7 mM + acetate"}}],"mark":{"type":"point","shape":"square","size":70,"filled":true,"fill":"white","stroke":"black","strokeWidth":1.2,"opacity":1},"encoding":{"x":{"field":"x","type":"quantitative","scale":{"domain":[-6.2206,55.7647],"nice":false,"zero":false},"axis":null},"y":{"field":"y","type":"quantitative","scale":{"domain":[-269.268,831.22],"nice":false,"zero":false},"axis":null}}},
{"data":{"name":"legE"},"transform":[{"filter":{"field":"c","equal":"16.7 mM + PA"}}],"mark":{"type":"point","shape":"square","size":70,"filled":true,"stroke":"black","strokeWidth":1,"opacity":1,"fill":{"gradient":"linear","x1":1,"y1":0,"x2":0,"y2":1,"stops":[{"offset":0,"color":"#000"},{"offset":0.15,"color":"#000"},{"offset":0.15,"color":"#fff"},{"offset":0.3333,"color":"#fff"},{"offset":0.3333,"color":"#000"},{"offset":0.4833,"color":"#000"},{"offset":0.4833,"color":"#fff"},{"offset":0.6667,"color":"#fff"},{"offset":0.6667,"color":"#000"},{"offset":0.8167,"color":"#000"},{"offset":0.8167,"color":"#fff"},{"offset":1,"color":"#fff"}]}},"encoding":{"x":{"field":"x","type":"quantitative","scale":{"domain":[-6.2206,55.7647],"nice":false,"zero":false},"axis":null},"y":{"field":"y","type":"quantitative","scale":{"domain":[-269.268,831.22],"nice":false,"zero":false},"axis":null}}},
{"data":{"name":"legE"},"mark":{"type":"text","fontSize":15,"baseline":"middle","align":"left","dx":5},"encoding":{"x":{"field":"x","type":"quantitative","scale":{"domain":[-6.2206,55.7647],"nice":false,"zero":false},"axis":null},"y":{"field":"y","type":"quantitative","scale":{"domain":[-269.268,831.22],"nice":false,"zero":false},"axis":null},"text":{"field":"t"}}},
{"data":{"name":"annE"},"transform":[{"filter":{"field":"k","equal":"letter"}}],"mark":{"type":"text","fontSize":29,"fontWeight":"bold","align":"left","baseline":"alphabetic"},"encoding":{"x":{"field":"x","type":"quantitative","scale":{"domain":[-6.2206,55.7647],"nice":false,"zero":false},"axis":null},"y":{"field":"y","type":"quantitative","scale":{"domain":[-269.268,831.22],"nice":false,"zero":false},"axis":null},"text":{"field":"t"}}},
{"data":{"name":"annE"},"transform":[{"filter":{"field":"k","equal":"title"}}],"mark":{"type":"text","fontSize":16,"baseline":"alphabetic"},"encoding":{"x":{"field":"x","type":"quantitative","scale":{"domain":[-6.2206,55.7647],"nice":false,"zero":false},"axis":null},"y":{"field":"y","type":"quantitative","scale":{"domain":[-269.268,831.22],"nice":false,"zero":false},"axis":null},"text":{"field":"t"}}},

{"data":{"name":"linesF"},"mark":{"type":"rule","stroke":"#8c8c8c","strokeWidth":1.5},"encoding":{"x":{"field":"x","type":"quantitative","scale":{"domain":[-10.8607,4.5365],"nice":false,"zero":false},"axis":null},"x2":{"field":"x2"},"y":{"field":"y","type":"quantitative","scale":{"domain":[-0.608824,1.879412],"nice":false,"zero":false},"axis":null},"y2":{"field":"y2"}}},
{"data":{"name":"barsF"},"mark":{"type":"bar","size":25,"fill":"black","stroke":"black","strokeWidth":1.5},"encoding":{"x":{"field":"x","type":"quantitative","scale":{"domain":[-10.8607,4.5365],"nice":false,"zero":false},"axis":null},"y":{"field":"v","type":"quantitative","scale":{"domain":[-0.608824,1.879412],"nice":false,"zero":false},"axis":{"orient":"left","offset":-622,"values":[0,0.05,0.1,0.15,0.2,0.25,0.3,0.35,0.4,0.45],"format":".2~f","title":"ng/ug protein","titleY":750,"titleFontSize":15.5}},"y2":{"datum":0}}},
{"data":{"name":"barsF"},"mark":{"type":"errorbar","ticks":{"size":10},"thickness":1.5,"color":"black"},"encoding":{"x":{"field":"x","type":"quantitative","scale":{"domain":[-10.8607,4.5365],"nice":false,"zero":false},"axis":null},"y":{"field":"lo","type":"quantitative","scale":{"domain":[-0.608824,1.879412],"nice":false,"zero":false},"axis":null},"y2":{"field":"hi"}}},
{"data":{"name":"sigF"},"mark":{"type":"rule","color":"black","strokeWidth":1.5},"encoding":{"x":{"field":"x","type":"quantitative","scale":{"domain":[-10.8607,4.5365],"nice":false,"zero":false},"axis":null},"x2":{"field":"x2"},"y":{"field":"y","type":"quantitative","scale":{"domain":[-0.608824,1.879412],"nice":false,"zero":false},"axis":null}}},
{"data":{"name":"sigF"},"mark":{"type":"text","text":"*","fontSize":15,"baseline":"alphabetic","dy":-1},"encoding":{"x":{"field":"xm","type":"quantitative","scale":{"domain":[-10.8607,4.5365],"nice":false,"zero":false},"axis":null},"y":{"field":"y","type":"quantitative","scale":{"domain":[-0.608824,1.879412],"nice":false,"zero":false},"axis":null}}},
{"data":{"name":"tabF"},"mark":{"type":"text","fontSize":16,"baseline":"middle"},"encoding":{"x":{"field":"x","type":"quantitative","scale":{"domain":[-10.8607,4.5365],"nice":false,"zero":false},"axis":null},"y":{"field":"y","type":"quantitative","scale":{"domain":[-0.608824,1.879412],"nice":false,"zero":false},"axis":null},"text":{"field":"t"}}},
{"data":{"name":"rowF"},"mark":{"type":"text","fontSize":15.7,"baseline":"middle","align":"right","dx":-2},"encoding":{"x":{"field":"x","type":"quantitative","scale":{"domain":[-10.8607,4.5365],"nice":false,"zero":false},"axis":null},"y":{"field":"y","type":"quantitative","scale":{"domain":[-0.608824,1.879412],"nice":false,"zero":false},"axis":null},"text":{"field":"t"}}},
{"data":{"name":"annF"},"transform":[{"filter":{"field":"k","equal":"letter"}}],"mark":{"type":"text","fontSize":29,"fontWeight":"bold","align":"left","baseline":"alphabetic"},"encoding":{"x":{"field":"x","type":"quantitative","scale":{"domain":[-10.8607,4.5365],"nice":false,"zero":false},"axis":null},"y":{"field":"y","type":"quantitative","scale":{"domain":[-0.608824,1.879412],"nice":false,"zero":false},"axis":null},"text":{"field":"t"}}},
{"data":{"name":"annF"},"transform":[{"filter":{"field":"k","equal":"title"}}],"mark":{"type":"text","fontSize":16,"baseline":"alphabetic"},"encoding":{"x":{"field":"x","type":"quantitative","scale":{"domain":[-10.8607,4.5365],"nice":false,"zero":false},"axis":null},"y":{"field":"y","type":"quantitative","scale":{"domain":[-0.608824,1.879412],"nice":false,"zero":false},"axis":null},"text":{"field":"t"}}},

{"data":{"name":"linesG"},"mark":{"type":"rule","stroke":"#8c8c8c","strokeWidth":1.5},"encoding":{"x":{"field":"x","type":"quantitative","scale":{"domain":[-1.20984,12.60984],"nice":false,"zero":false},"axis":null},"x2":{"field":"x2"},"y":{"field":"y","type":"quantitative","scale":{"domain":[-48.922,1341.097],"nice":false,"zero":false},"axis":null},"y2":{"field":"y2"}}},
{"data":{"name":"barsG"},"mark":{"type":"bar","size":26,"fill":"black","stroke":"black","strokeWidth":1.5},"encoding":{"x":{"field":"x","type":"quantitative","scale":{"domain":[-1.20984,12.60984],"nice":false,"zero":false},"axis":null},"y":{"field":"v","type":"quantitative","scale":{"domain":[-48.922,1341.097],"nice":false,"zero":false},"axis":{"orient":"left","offset":-104.3,"values":[0,20,40,60,80,100,120,140,160,180,200],"format":".0f","title":"Insulin secretion (ng/ml)","titleY":1007,"titleFontSize":15.5}},"y2":{"datum":0}}},
{"data":{"name":"barsG"},"mark":{"type":"errorbar","ticks":{"size":9},"thickness":1.5,"color":"black"},"encoding":{"x":{"field":"x","type":"quantitative","scale":{"domain":[-1.20984,12.60984],"nice":false,"zero":false},"axis":null},"y":{"field":"lo","type":"quantitative","scale":{"domain":[-48.922,1341.097],"nice":false,"zero":false},"axis":null},"y2":{"field":"hi"}}},
{"data":{"name":"sigG"},"mark":{"type":"rule","color":"black","strokeWidth":1.5},"encoding":{"x":{"field":"x","type":"quantitative","scale":{"domain":[-1.20984,12.60984],"nice":false,"zero":false},"axis":null},"x2":{"field":"x2"},"y":{"field":"y","type":"quantitative","scale":{"domain":[-48.922,1341.097],"nice":false,"zero":false},"axis":null}}},
{"data":{"name":"sigG"},"mark":{"type":"text","text":"*","fontSize":15,"baseline":"alphabetic","dy":-1},"encoding":{"x":{"field":"xm","type":"quantitative","scale":{"domain":[-1.20984,12.60984],"nice":false,"zero":false},"axis":null},"y":{"field":"y","type":"quantitative","scale":{"domain":[-48.922,1341.097],"nice":false,"zero":false},"axis":null}}},
{"data":{"name":"tabG"},"mark":{"type":"text","fontSize":16,"baseline":"middle"},"encoding":{"x":{"field":"x","type":"quantitative","scale":{"domain":[-1.20984,12.60984],"nice":false,"zero":false},"axis":null},"y":{"field":"y","type":"quantitative","scale":{"domain":[-48.922,1341.097],"nice":false,"zero":false},"axis":null},"text":{"field":"t"}}},
{"data":{"name":"rowG"},"mark":{"type":"text","fontSize":15.7,"baseline":"middle","align":"right","dx":-2},"encoding":{"x":{"field":"x","type":"quantitative","scale":{"domain":[-1.20984,12.60984],"nice":false,"zero":false},"axis":null},"y":{"field":"y","type":"quantitative","scale":{"domain":[-48.922,1341.097],"nice":false,"zero":false},"axis":null},"text":{"field":"t"}}},
{"data":{"name":"annG"},"transform":[{"filter":{"field":"k","equal":"letter"}}],"mark":{"type":"text","fontSize":29,"fontWeight":"bold","align":"left","baseline":"alphabetic"},"encoding":{"x":{"field":"x","type":"quantitative","scale":{"domain":[-1.20984,12.60984],"nice":false,"zero":false},"axis":null},"y":{"field":"y","type":"quantitative","scale":{"domain":[-48.922,1341.097],"nice":false,"zero":false},"axis":null},"text":{"field":"t"}}},
{"data":{"name":"annG"},"transform":[{"filter":{"field":"k","equal":"title"}}],"mark":{"type":"text","fontSize":16,"baseline":"alphabetic"},"encoding":{"x":{"field":"x","type":"quantitative","scale":{"domain":[-1.20984,12.60984],"nice":false,"zero":false},"axis":null},"y":{"field":"y","type":"quantitative","scale":{"domain":[-48.922,1341.097],"nice":false,"zero":false},"axis":null},"text":{"field":"t"}}}
]
}
